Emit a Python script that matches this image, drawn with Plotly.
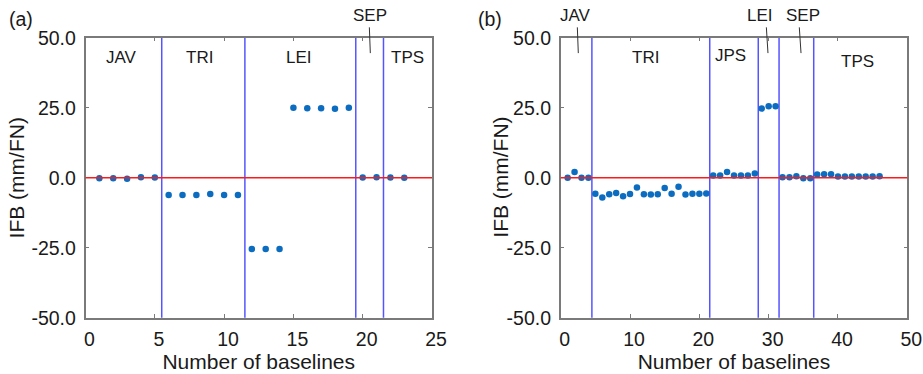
import plotly.graph_objects as go

# ---------------- data ----------------
# panel (a)
a_x = list(range(1, 24))
a_ifb = [-0.2, -0.2, -0.4, 0.2, 0.1,
         -6.2, -6.2, -6.2, -5.8, -6.2, -6.2,
         -25.5, -25.5, -25.5, 25.0, 24.8, 24.8, 24.6, 25.0,
         0.1, 0.2, 0.1, 0.0]
a_bounds = [5.5, 11.5, 19.5, 21.5]
a_in_labels = ["JAV", "TRI", "LEI", "TPS"]
a_in_x = [2.6, 8.2, 15.4, 23.2]
a_in_y = [42.8, 42.8, 42.8, 42.8]
a_out_labels = ["SEP"]
a_out_x = [20.5]
a_lead_x0 = [20.48]
a_lead_x1 = [20.55]

# panel (b)
b_x = list(range(1, 47))
b_ifb = [0.0, 2.0, 0.0, 0.0,
         -5.7, -7.1, -5.9, -5.5, -6.6, -5.8, -3.5, -5.9, -6.0, -5.9, -3.7, -5.7,
         -3.2, -6.0, -5.7, -5.7, -5.6,
         0.8, 0.8, 2.0, 0.8, 0.8, 0.8, 1.5,
         24.7, 25.5, 25.5,
         0.2, 0.2, 0.5, -0.2, -0.2,
         1.1, 1.2, 1.2, 0.4, 0.4, 0.4, 0.4, 0.4, 0.4, 0.5]
b_bounds = [4.5, 21.5, 28.5, 31.5, 36.5]
b_in_labels = ["TRI", "JPS", "TPS"]
b_in_x = [12.2, 24.5, 42.8]
b_in_y = [43.0, 43.5, 41.4]
b_out_labels = ["JAV", "LEI", "SEP"]
b_out_x = [2.2, 28.8, 35.0]
b_lead_x0 = [2.40, 29.67, 34.42]
b_lead_x1 = [2.54, 29.90, 34.67]

y_ticks = [-50, -25, 0, 25, 50]
y_tick_text = ["-50.0", "-25.0", "0.0", "25.0", "50.0"]
a_x_ticks = [0, 5, 10, 15, 20, 25]
b_x_ticks = [0, 10, 20, 30, 40, 50]
x_title = "Number of baselines"
y_title = "IFB (mm/FN)"
panel_tags = ["(a)", "(b)"]

# ---------------- figure ----------------
FONT = "Liberation Sans, Arial, sans-serif"
TXT = "#1a1a1a"
DOT = "#0b6cc0"
VLINE = "rgb(85,85,255)"
FRAME = "#7a7a7a"

fig = go.Figure()
fig.add_trace(go.Scatter(x=a_x, y=a_ifb, mode="markers", xaxis="x", yaxis="y",
                         marker=dict(color=DOT, size=6.5), showlegend=False,
                         cliponaxis=False))
fig.add_trace(go.Scatter(x=b_x, y=b_ifb, mode="markers", xaxis="x2", yaxis="y2",
                         marker=dict(color=DOT, size=6.5), showlegend=False,
                         cliponaxis=False))

ydom = [56.3 / 374, 336.3 / 374]
common_ax = dict(showline=True, mirror="ticks", linecolor=FRAME, linewidth=1.5,
                 ticks="inside", ticklen=4, tickcolor=FRAME, tickwidth=1,
                 showgrid=False, zeroline=False, automargin=False,
                 tickfont=dict(family=FONT, size=19.5, color=TXT))

fig.update_layout(
    width=923, height=374,
    margin=dict(l=0, r=0, t=0, b=0, autoexpand=False),
    paper_bgcolor="white", plot_bgcolor="white",
    font=dict(family=FONT, color=TXT),
    xaxis=dict(domain=[85.5 / 923, 432 / 923], range=[0, 25], tickvals=a_x_ticks,
               anchor="y", ticklabelshift=4, ticklabelstandoff=3,
               title=dict(text=x_title, font=dict(size=21), standoff=0),
               **common_ax),
    yaxis=dict(domain=ydom, range=[-50, 50], tickvals=y_ticks, ticktext=y_tick_text,
               anchor="x", ticklabelstandoff=4, **common_ax),
    xaxis2=dict(domain=[560.7 / 923, 907.3 / 923], range=[0, 50], tickvals=b_x_ticks,
                anchor="y2", ticklabelshift=4, ticklabelstandoff=3,
                title=dict(text=x_title, font=dict(size=21), standoff=0),
                **common_ax),
    yaxis2=dict(domain=ydom, range=[-50, 50], tickvals=y_ticks, ticktext=y_tick_text,
                anchor="x2", ticklabelstandoff=4, **common_ax),
)

def add_panel(xa, ya, bounds, in_labels, in_x, in_y, out_labels, out_x, lx0, lx1):
    # red zero line
    fig.add_shape(type="line", xref=f"{xa} domain", yref=ya, x0=0, x1=1, y0=0, y1=0,
                  line=dict(color="#ff1a1a", width=1.6), layer="above")
    for b in bounds:
        fig.add_shape(type="line", xref=xa, yref=f"{ya} domain", x0=b, x1=b, y0=0, y1=1,
                      line=dict(color=VLINE, width=1.5), layer="below")
    for t, x, y in zip(in_labels, in_x, in_y):
        fig.add_annotation(text=t, x=x, y=y, xref=xa, yref=ya, showarrow=False,
                           xanchor="center", yanchor="middle",
                           font=dict(family=FONT, size=17, color=TXT))
    for t, x, x0, x1 in zip(out_labels, out_x, lx0, lx1):
        fig.add_annotation(text=t, x=x, y=1.081, xref=xa, yref=f"{ya} domain",
                           showarrow=False, xanchor="center", yanchor="middle",
                           font=dict(family=FONT, size=17, color=TXT))
        fig.add_shape(type="line", xref=xa, yref=f"{ya} domain", x0=x0, x1=x1,
                      y0=1.037, y1=0.945, line=dict(color="#333333", width=1))

add_panel("x", "y", a_bounds, a_in_labels, a_in_x, a_in_y,
          a_out_labels, a_out_x, a_lead_x0, a_lead_x1)
add_panel("x2", "y2", b_bounds, b_in_labels, b_in_x, b_in_y,
          b_out_labels, b_out_x, b_lead_x0, b_lead_x1)

# y-axis titles (rotated) placed to match the reference
for ya, px in zip(["y", "y2"], [16.7, 501.0]):
    fig.add_annotation(text=y_title, x=px / 923, y=0.5, xref="paper", yref=f"{ya} domain",
                       showarrow=False, textangle=-90, xanchor="center", yanchor="middle",
                       font=dict(family=FONT, size=21, color=TXT))

for tag, px in zip(panel_tags, [20.5, 489.5]):
    fig.add_annotation(text=tag, x=px / 923, y=(374 - 19) / 374, xref="paper", yref="paper",
                       showarrow=False, xanchor="center", yanchor="middle",
                       font=dict(family=FONT, size=19.5, color=TXT))

fig.write_html("out.html", config={"displayModeBar": False},
               post_script="document.body.style.margin='0px';document.body.style.overflow='hidden';")
